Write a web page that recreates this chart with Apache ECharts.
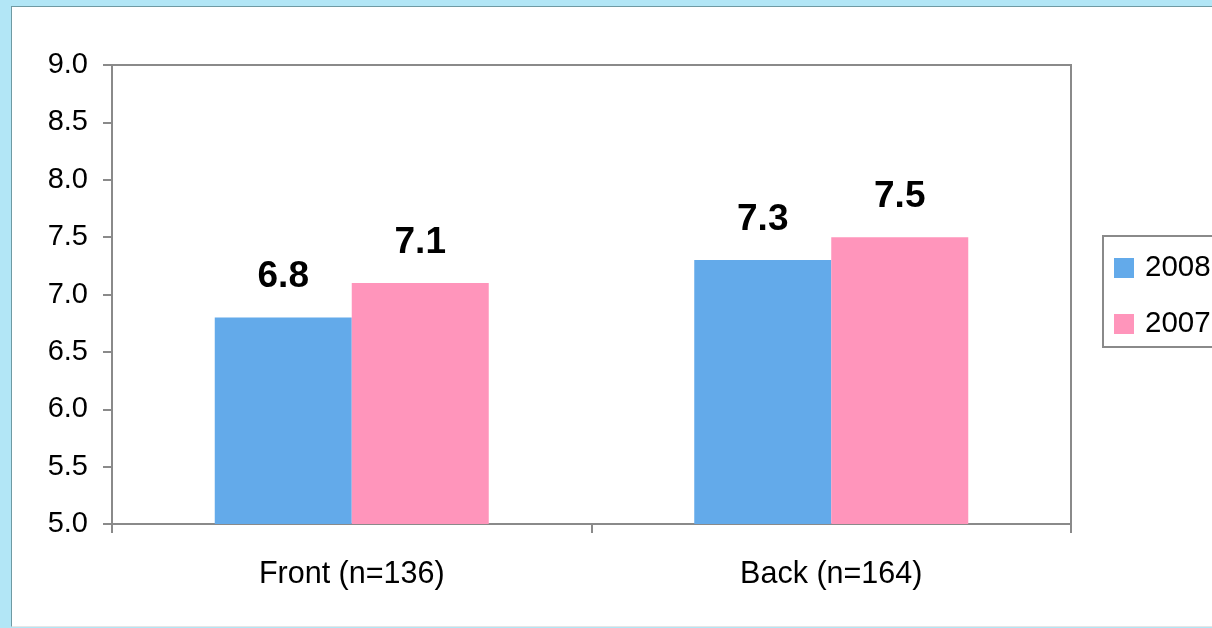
<!DOCTYPE html>
<html>
<head>
<meta charset="utf-8">
<script src="https://cdn.jsdelivr.net/npm/echarts@6/dist/echarts.min.js"></script>
<style>
  html, body { margin: 0; padding: 0; width: 1212px; height: 628px; overflow: hidden; background: #b2e6f6; }
  #panel { position: absolute; left: 11px; top: 6px; width: 1210px; height: 619px; background: #ffffff;
           border-left: 1px solid #6f9aa3; border-top: 1px solid #6f9aa3; border-bottom: 1px solid #e6e6e6; }
  #chart { position: absolute; left: 0; top: 0; width: 1212px; height: 628px; }
</style>
</head>
<body>
<div id="panel"></div>
<div id="chart"></div>
<script>
// Average scores by position, two survey years
const categories = ['Front (n=136)', 'Back (n=164)'];
const seriesNames = ['2008', '2007'];
const values2008 = [6.8, 7.3];
const values2007 = [7.1, 7.5];
const yTicks = ['5.0', '5.5', '6.0', '6.5', '7.0', '7.5', '8.0', '8.5', '9.0'];

const FONT = '"Liberation Sans", Arial, sans-serif';
const colors = ['#63aaea', '#ff95bb'];

const chart = echarts.init(document.getElementById('chart'), null, { renderer: 'canvas' });

const barLabel = {
  show: true,
  position: 'top',
  distance: 22,
  color: '#000',
  fontFamily: FONT,
  fontWeight: 'bold',
  fontSize: 37,
  formatter: p => p.value.toFixed(1)
};

chart.setOption({
  backgroundColor: 'transparent',
  animation: false,
  grid: {
    left: 112, top: 65, width: 959, height: 459,
    show: true, borderColor: '#8a8a8a', borderWidth: 2, backgroundColor: 'transparent'
  },
  legend: {
    orient: 'vertical',
    left: 1103, top: 236,
    data: seriesNames,
    icon: 'rect',
    itemWidth: 20, itemHeight: 20,
    itemGap: 26,
    padding: [17, 40, 8, 11],
    borderColor: '#8a8a8a', borderWidth: 2, backgroundColor: '#fff',
    textStyle: { color: '#000', fontFamily: FONT, fontSize: 29.5, lineHeight: 30, padding: [0, 0, 0, 6] }
  },
  xAxis: {
    type: 'category',
    data: categories,
    axisLine: { show: true, lineStyle: { color: '#8a8a8a', width: 2 } },
    axisTick: { show: true, alignWithLabel: false, length: 9, lineStyle: { color: '#8a8a8a', width: 2 } },
    axisLabel: { color: '#000', fontFamily: FONT, fontSize: 30.5, margin: 35 },
    splitLine: { show: false }
  },
  yAxis: {
    type: 'value',
    min: 5, max: 9, interval: 0.5,
    axisLine: { show: true, lineStyle: { color: '#8a8a8a', width: 2 } },
    axisTick: { show: true, length: 9, lineStyle: { color: '#8a8a8a', width: 2 } },
    axisLabel: {
      color: '#000', fontFamily: FONT, fontSize: 29, margin: 24,
      formatter: v => yTicks[Math.round((v - 5) / 0.5)]
    },
    splitLine: { show: false }
  },
  series: [
    { name: seriesNames[0], type: 'bar', data: values2008, barWidth: 137, barGap: '0%',
      itemStyle: { color: colors[0] }, label: barLabel },
    { name: seriesNames[1], type: 'bar', data: values2007, barWidth: 137, barGap: '0%',
      itemStyle: { color: colors[1] }, label: barLabel }
  ]
});
</script>
</body>
</html>
